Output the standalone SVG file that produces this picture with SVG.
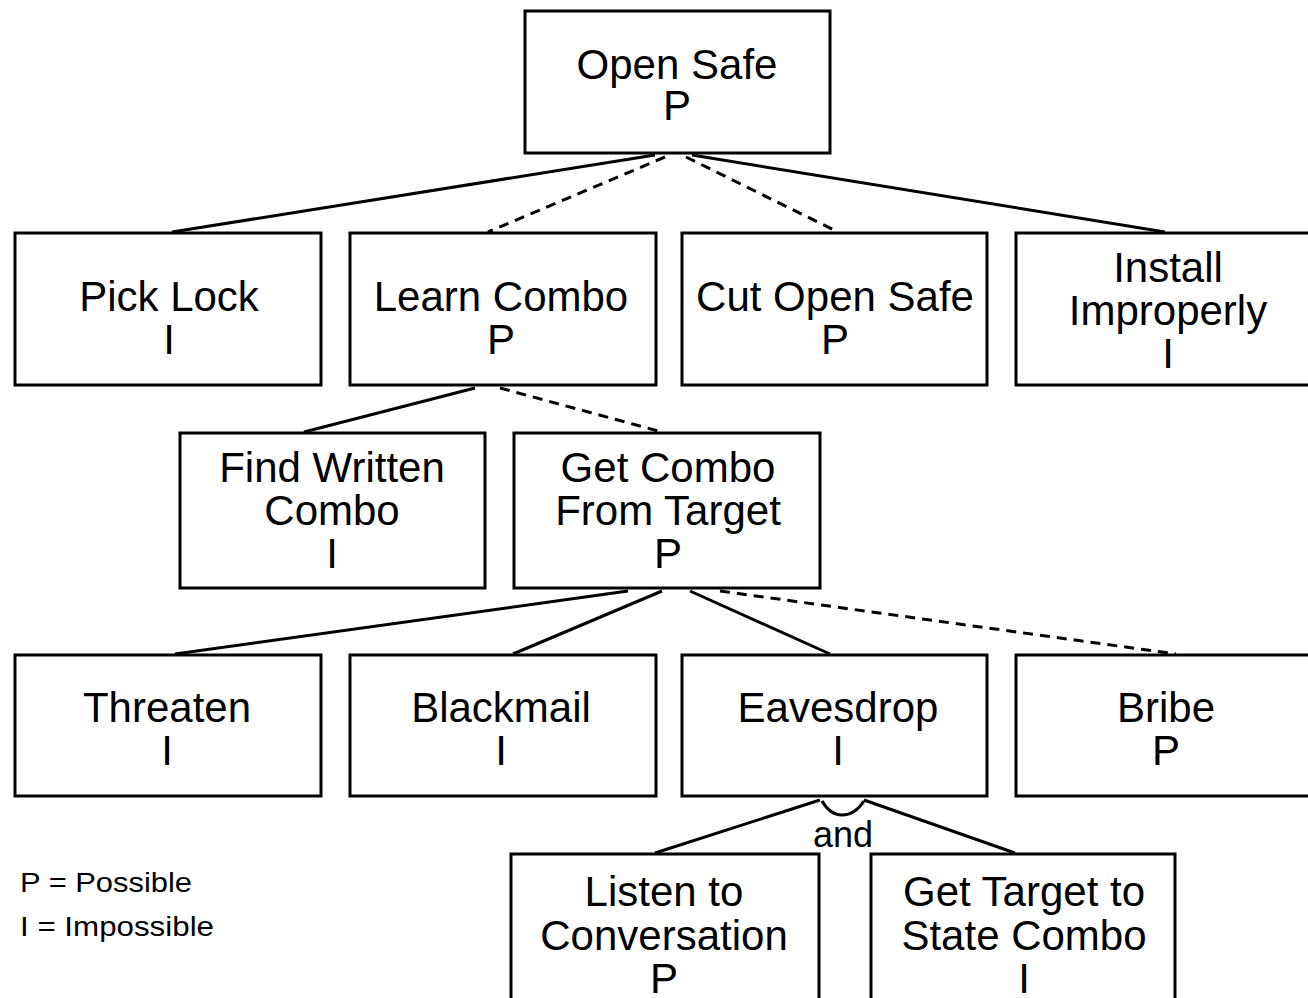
<svg xmlns="http://www.w3.org/2000/svg" width="1308" height="998" viewBox="0 0 1308 998">
<style>
.box{fill:#fff;stroke:#000;stroke-width:3}
.t{font-family:"Liberation Sans",Arial,sans-serif;font-size:42px;fill:#000;text-anchor:middle}
.c{stroke:#000;stroke-width:3;fill:none}
.d{stroke-dasharray:10 7}
.leg{font-family:"Liberation Sans",Arial,sans-serif;font-size:28px;fill:#000}
</style>
<rect width="1308" height="998" fill="#fff"/>
<g id="connectors">
<line class="c" x1="655" y1="155" x2="172" y2="232"/>
<line class="c d" x1="665" y1="157" x2="488" y2="232"/>
<line class="c d" x1="686" y1="157" x2="838" y2="232"/>
<line class="c" x1="692" y1="155" x2="1165" y2="232"/>
<line class="c" x1="475" y1="388" x2="304" y2="432"/>
<line class="c d" x1="500" y1="388" x2="662" y2="432"/>
<line class="c" x1="628" y1="591" x2="175" y2="654"/>
<line class="c" x1="662" y1="591" x2="513" y2="654"/>
<line class="c" x1="690" y1="591" x2="830" y2="654"/>
<line class="c d" x1="720" y1="591" x2="1176" y2="654"/>
<line class="c" x1="820" y1="800" x2="655" y2="853"/>
<line class="c" x1="864" y1="800" x2="1015" y2="853"/>
<path class="c" d="M822 801 Q830 815 842 815 Q855 815 864 801"/>
<text class="t" x="843" y="847" style="font-size:36px">and</text>
</g>
<g id="open-safe"><rect class="box" x="525" y="11" width="305" height="142"/><text class="t" x="677" y="79">Open Safe</text><text class="t" x="677" y="120">P</text></g>
<g id="pick-lock"><rect class="box" x="15" y="233" width="306" height="152"/><text class="t" x="169" y="311">Pick Lock</text><text class="t" x="169" y="354">I</text></g>
<g id="learn-combo"><rect class="box" x="350" y="233" width="306" height="152"/><text class="t" x="501" y="311">Learn Combo</text><text class="t" x="501" y="354">P</text></g>
<g id="cut-open-safe"><rect class="box" x="682" y="233" width="305" height="152"/><text class="t" x="835" y="311">Cut Open Safe</text><text class="t" x="835" y="354">P</text></g>
<g id="install-improperly"><rect class="box" x="1016" y="233" width="306" height="152"/><text class="t" x="1168" y="282">Install</text><text class="t" x="1168" y="325">Improperly</text><text class="t" x="1168" y="368">I</text></g>
<g id="find-written-combo"><rect class="box" x="180" y="433" width="305" height="155"/><text class="t" x="332" y="482">Find  Written</text><text class="t" x="332" y="525">Combo</text><text class="t" x="332" y="568">I</text></g>
<g id="get-combo-from-target"><rect class="box" x="514" y="433" width="306" height="155"/><text class="t" x="668" y="482">Get Combo</text><text class="t" x="668" y="525">From Target</text><text class="t" x="668" y="568">P</text></g>
<g id="threaten"><rect class="box" x="15" y="655" width="306" height="141"/><text class="t" x="167" y="722">Threaten</text><text class="t" x="167" y="765">I</text></g>
<g id="blackmail"><rect class="box" x="350" y="655" width="306" height="141"/><text class="t" x="501" y="722">Blackmail</text><text class="t" x="501" y="765">I</text></g>
<g id="eavesdrop"><rect class="box" x="682" y="655" width="305" height="141"/><text class="t" x="838" y="722">Eavesdrop</text><text class="t" x="838" y="765">I</text></g>
<g id="bribe"><rect class="box" x="1016" y="655" width="306" height="141"/><text class="t" x="1166" y="722">Bribe</text><text class="t" x="1166" y="765">P</text></g>
<g id="listen-to-conversation"><rect class="box" x="511" y="854" width="308" height="160"/><text class="t" x="664" y="906">Listen to</text><text class="t" x="664" y="950">Conversation</text><text class="t" x="664" y="993">P</text></g>
<g id="get-target-to-state-combo"><rect class="box" x="871" y="854" width="304" height="160"/><text class="t" x="1024" y="906">Get Target to</text><text class="t" x="1024" y="950">State Combo</text><text class="t" x="1024" y="993">I</text></g>
<g id="legend"><text class="leg" x="20" y="892" textLength="172" lengthAdjust="spacingAndGlyphs">P = Possible</text><text class="leg" x="20" y="936" textLength="194" lengthAdjust="spacingAndGlyphs">I = Impossible</text></g>
</svg>
